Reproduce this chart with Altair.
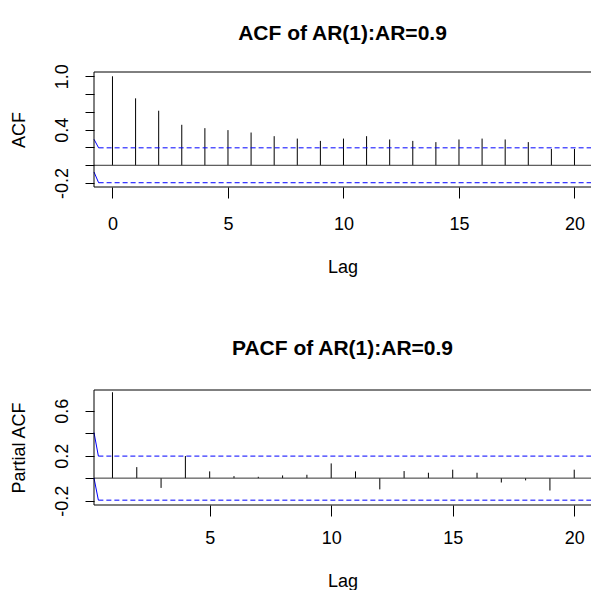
import altair as alt
import pandas as pd

# ---------------- data ----------------
acf_lags = list(range(0, 21))
acf_values = [1.0, 0.752, 0.613, 0.455, 0.417, 0.395, 0.368, 0.327, 0.300, 0.274,
              0.300, 0.327, 0.290, 0.274, 0.260, 0.290, 0.300, 0.290, 0.260, 0.184, 0.184]

pacf_lags = list(range(1, 21))
pacf_values = [0.764, 0.098, -0.087, 0.197, 0.060, 0.018, 0.012, 0.024, 0.030, 0.131,
               0.060, -0.100, 0.063, 0.048, 0.075, 0.048, -0.039, -0.020, -0.110, 0.075]

conf_limit = 0.196

acf_x_ticks = [0, 5, 10, 15, 20]
pacf_x_ticks = [5, 10, 15, 20]
acf_y_ticks = [-0.2, 0.0, 0.2, 0.4, 0.6, 0.8, 1.0]
acf_y_labels = ["-0.2", "0.4", "1.0"]
pacf_y_ticks = [-0.2, 0.0, 0.2, 0.4, 0.6]
pacf_y_labels = ["-0.2", "0.2", "0.6"]

acf_x_domain = [-0.8, 20.715]
acf_y_domain = [-0.244, 1.048]
pacf_x_domain = [0.24, 20.69]
pacf_y_domain = [-0.239, 0.784]

# short solid blue segments at the left edge of each panel
acf_edge_x = [-0.8, -0.6]
acf_edge_upper = [0.292, 0.196]
acf_edge_lower = [-0.075, -0.196]
pacf_edge_x = [0.24, 0.42]
pacf_edge_upper = [0.405, 0.196]
pacf_edge_lower = [0.0, -0.196]

# ---------------- styling ----------------
FONT = "Liberation Sans"
W, H = 497, 115
BLUE = "#0000ff"


def label_expr(labels):
    parts = [f"abs(datum.value - ({float(l)})) < 1e-6 ? '{l}'" for l in labels]
    return " : ".join(parts) + " : ''"


def panel(title, ytitle, lags, vals, xdom, ydom, xticks, yticks, ylabels,
          edge_x, edge_up, edge_lo, title_offset, xlab_pad, xtitle_y):
    xs = alt.Scale(domain=xdom, nice=False, zero=False)
    ys = alt.Scale(domain=ydom, nice=False, zero=False)

    x_axis = alt.Axis(values=xticks, format="d", title="Lag", domain=False, grid=False,
                      tickSize=11, tickColor="black", tickWidth=1,
                      labelFont=FONT, labelFontSize=18, labelColor="black",
                      labelPadding=xlab_pad, labelBaseline="middle", labelFlush=False,
                      labelOverlap=False,
                      titleFont=FONT, titleFontSize=18, titleFontWeight="normal",
                      titleColor="black", titleBaseline="middle", titleY=xtitle_y)
    y_axis = alt.Axis(values=yticks, labelExpr=label_expr(ylabels), title=ytitle,
                      domain=False, grid=False, tickSize=9, tickColor="black", tickWidth=1,
                      labelFont=FONT, labelFontSize=18, labelColor="black",
                      labelAngle=270, labelAlign="center", labelBaseline="middle",
                      labelPadding=23, labelFlush=False, labelOverlap=False,
                      titleFont=FONT, titleFontSize=18, titleFontWeight="normal",
                      titleColor="black", titleAngle=270, titleAlign="center",
                      titleBaseline="middle", titleX=-75, titleY=H / 2)

    X = alt.X("lag:Q", scale=xs, axis=x_axis)
    Y = alt.Y("val:Q", scale=ys, axis=y_axis)

    bars_df = pd.DataFrame({"lag": lags, "val": vals})
    bars = alt.Chart(bars_df).mark_rule(color="black", strokeWidth=1).encode(
        x=X, y=Y, y2=alt.datum(0),
    )

    zero = alt.Chart(pd.DataFrame({"val": [0.0]})).mark_rule(
        color="#333333", strokeWidth=1).encode(y=Y)

    conf_df = pd.DataFrame({"lag": [edge_x[1], edge_x[1]], "lag_end": [xdom[1], xdom[1]],
                            "val": [conf_limit, -conf_limit]})
    conf = alt.Chart(conf_df).mark_rule(color=BLUE, strokeWidth=1, strokeDash=[5, 3]).encode(
        x=X, x2="lag_end:Q", y=Y,
    )

    edge_df = pd.DataFrame({"lag": edge_x + edge_x, "val": edge_up + edge_lo,
                            "g": ["u", "u", "l", "l"]})
    edges = alt.Chart(edge_df).mark_line(color=BLUE, strokeWidth=1).encode(
        x=X, y=Y, detail="g:N",
    )

    frame_df = pd.DataFrame({"k": [0]})
    top_line = alt.Chart(frame_df).mark_rule(color="black", strokeWidth=1).encode(
        x=alt.value(0), x2=alt.value(W), y=alt.value(0))
    bottom_line = alt.Chart(frame_df).mark_rule(color="black", strokeWidth=1).encode(
        x=alt.value(0), x2=alt.value(W), y=alt.value(H))
    left_line = alt.Chart(frame_df).mark_rule(color="black", strokeWidth=1).encode(
        x=alt.value(0), y=alt.value(0), y2=alt.value(H))

    return alt.layer(bars, zero, conf, edges, top_line, bottom_line, left_line).properties(
        width=W, height=H,
        title=alt.TitleParams(text=title, font=FONT, fontSize=21, fontWeight="bold",
                              color="black", anchor="middle", frame="group",
                              baseline="alphabetic", offset=title_offset),
    )


p1 = panel("ACF of AR(1):AR=0.9", "ACF", acf_lags, acf_values, acf_x_domain, acf_y_domain,
           acf_x_ticks, acf_y_ticks, acf_y_labels, acf_edge_x, acf_edge_upper, acf_edge_lower,
           title_offset=3, xlab_pad=26, xtitle_y=80)
p2 = panel("PACF of AR(1):AR=0.9", "Partial ACF", pacf_lags, pacf_values, pacf_x_domain,
           pacf_y_domain, pacf_x_ticks, pacf_y_ticks, pacf_y_labels, pacf_edge_x,
           pacf_edge_upper, pacf_edge_lower, title_offset=13.7, xlab_pad=22, xtitle_y=76)

chart = alt.vconcat(p1, p2, spacing=61).properties(
    padding={"left": 10, "top": 22, "right": 0, "bottom": 0},
    background="white",
).configure_view(stroke=None)

chart.save("out.html", embed_options={"renderer": "svg", "actions": False})
